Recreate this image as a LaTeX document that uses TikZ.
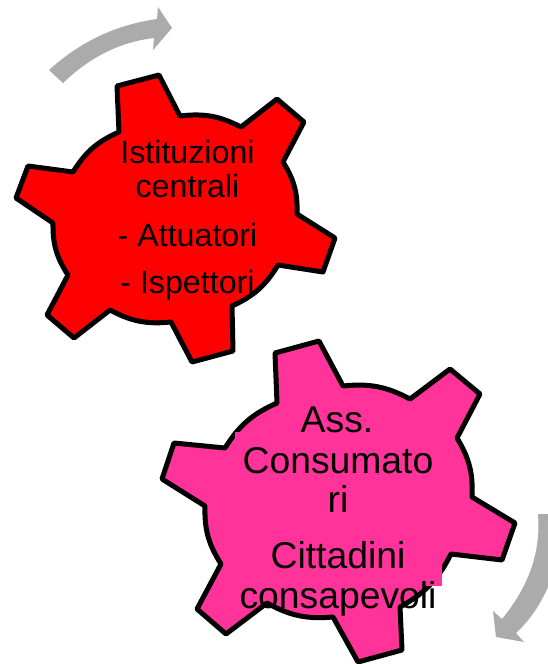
\documentclass[tikz,border=0pt]{standalone}
\usepackage{fontspec}
\setmainfont{Liberation Sans}
\definecolor{gearpink}{HTML}{FF3399}
\definecolor{arrowgray}{HTML}{ABABAB}
\tikzset{
  gear/.style={draw=black,line width=5pt,line join=round},
  flowarrow/.style={fill=arrowgray,draw=none},
  redtext/.style={anchor=base,inner sep=0pt,font=\fontsize{32.2}{36}\selectfont,text=black},
  pinktext/.style={anchor=base,inner sep=0pt,font=\fontsize{37.3}{42}\selectfont,text=black},
  arc/.style={bend left=17}
}
\begin{document}
\begin{tikzpicture}[x=1pt,y=-1pt]
\useasboundingbox (0,0) rectangle (548,664);
% arrows
\fill[flowarrow] (49,70) .. controls (80,42) and (115,25) .. (157,19) -- (158,7) -- (172,28) -- (153,50) -- (154,38) .. controls (120,42) and (90,57) .. (63,83) -- cycle;
\fill[flowarrow] (538,514) .. controls (541,550) and (530,585) .. (502,619) -- (493,611) -- (496,637) -- (524,642) -- (516,633) .. controls (530,620) and (540,605) .. (548,587) -- (548,514) -- cycle;
% red gear
\path[gear,fill=red] (117,86) -- (159,75) -- (180,116) to[arc] (241,127) -- (277,99) -- (304,122) -- (283,162) to[arc] (297,214) -- (335,238) -- (323,272) -- (278,265) to[arc] (232,306) -- (233,351) -- (192,362) -- (171,322) to[arc] (110,310) -- (74,338) -- (47,315) -- (68,275) to[arc] (53,223) -- (16,198) -- (28,166) -- (73,172) to[arc] (119,132) -- cycle;
% pink gear
\path[gear,fill=gearpink] (275,353) -- (319,341) -- (343,386) to[arc] (410,399) -- (450,369) -- (480,394) -- (457,438) to[arc] (472,497) -- (515,523) -- (502,560) -- (451,554) to[arc] (400,607) -- (402,650) -- (358,662) -- (333,617) to[arc] (267,603) -- (226,634) -- (197,609) -- (221,564) to[arc] (205,506) -- (162,479) -- (174,443) -- (225,448) to[arc] (277,403) -- cycle;
\fill[gearpink] (235,432) rectangle (442,586);
% labels
\node[redtext] (r1) at (187.5,163) {Istituzioni};
\node[redtext] (r2) at (187.5,197) {centrali};
\node[redtext] (r3) at (187.5,246) {- Attuatori};
\node[redtext] (r4) at (187.5,293) {- Ispettori};
\node[pinktext] (p1) at (337,432) {Ass.};
\node[pinktext] (p2) at (338,473) {Consumato};
\node[pinktext] (p3) at (338,512) {ri};
\node[pinktext] (p4) at (338,568) {Cittadini};
\node[pinktext] (p5) at (338,608) {consapevoli};
\end{tikzpicture}
\end{document}
